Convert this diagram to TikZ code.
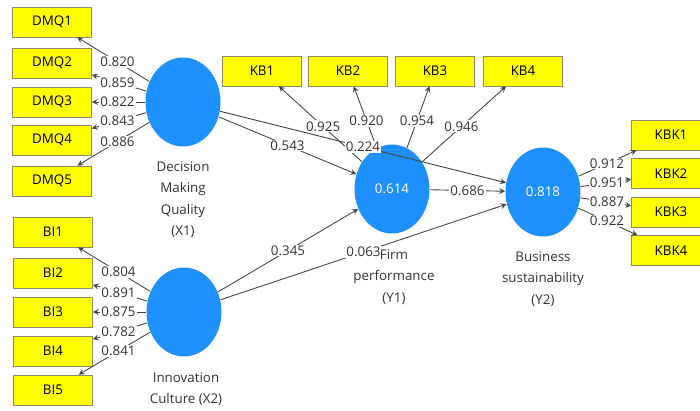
\documentclass[tikz,border=0pt]{standalone}
\usepackage{fontspec}
\setmainfont{Open Sans}
\usetikzlibrary{calc,shapes.geometric}
\definecolor{plsblue}{RGB}{30,144,255}
\definecolor{plsyellow}{RGB}{255,255,0}
\definecolor{plsline}{RGB}{70,70,70}
\begin{document}
\begin{tikzpicture}[>=stealth,x=0.02cm,y=-0.02cm,
  font=\fontsize{7.6}{12.2}\selectfont,
  ind/.style={draw=gray!70!olive,fill=plsyellow,minimum width=1.58cm,minimum height=0.6cm,inner sep=0pt},
  lv/.style={ellipse,fill=plsblue,minimum width=1.5cm,minimum height=1.78cm,inner sep=0pt,text=white},
  link/.style={->,draw=plsline,line width=0.5pt},
  lbl/.style={fill=white,inner sep=0.6pt,text=black!80},
  lvname/.style={align=center,text=black!80}]
  \useasboundingbox (0,0) rectangle (700,411);
  \clip (0,0) rectangle (700,411);
  \node[lv] (x1) at (183,102) {};
  \node[lv] (x2) at (184,312) {};
  \node[lv] (y1) at (392,189) {0.614};
  \node[lv] (y2) at (543,192) {0.818};
  \foreach \i/\yy in {1/22,2/63,3/102,4/140,5/181}
    \node[ind] (dmq\i) at (52,\yy) {DMQ\i};
  \foreach \i/\yy in {1/232,2/273,3/312,4/351,5/390}
    \node[ind] (bi\i) at (53,\yy) {BI\i};
  \foreach \i/\xx in {1/262,2/348,3/435,4/523}
    \node[ind] (kb\i) at (\xx,71) {KB\i};
  \foreach \i/\yy in {1/135,2/173.5,3/212,4/250.5}
    \node[ind] (kbk\i) at (671,\yy) {KBK\i};
  \foreach \i/\v in {1/0.820,2/0.859,3/0.822,4/0.843,5/0.886}{
    \draw[link] (x1) -- (dmq\i);
    \node[lbl] at ($(x1)!0.5!(dmq\i)$) {\v};
  }
  \foreach \i/\v in {1/0.804,2/0.891,3/0.875,4/0.782,5/0.841}{
    \draw[link] (x2) -- (bi\i);
    \node[lbl] at ($(x2)!0.5!(bi\i)$) {\v};
  }
  \foreach \i/\v/\pp in {1/0.925/0.53,2/0.920/0.58,3/0.954/0.58,4/0.946/0.53}{
    \draw[link] (y1) -- (kb\i);
    \node[lbl] at ($(y1)!\pp!(kb\i)$) {\v};
  }
  \foreach \i/\v in {1/0.912,2/0.951,3/0.887,4/0.922}{
    \draw[link] (y2) -- (kbk\i);
    \node[lbl] at ($(y2)!0.5!(kbk\i)$) {\v};
  }
  \foreach \a/\b/\v in {x1/y1/0.543,x1/y2/0.224,x2/y1/0.345,x2/y2/0.063,y1/y2/0.686}{
    \draw[link] (\a) -- (\b);
    \node[lbl] at ($(\a)!0.5!(\b)$) {\v};
  }
  \node[lvname] (x1name) at (183,199.5) {Decision\\Making\\Quality\\(X1)};
  \node[lvname] (x2name) at (186,389) {Innovation\\Culture (X2)};
  \node[lvname] (y1name) at (394,277) {Firm\\performance\\(Y1)};
  \node[lvname] (y2name) at (543,279) {Business\\sustainability\\(Y2)};
\end{tikzpicture}
\end{document}
